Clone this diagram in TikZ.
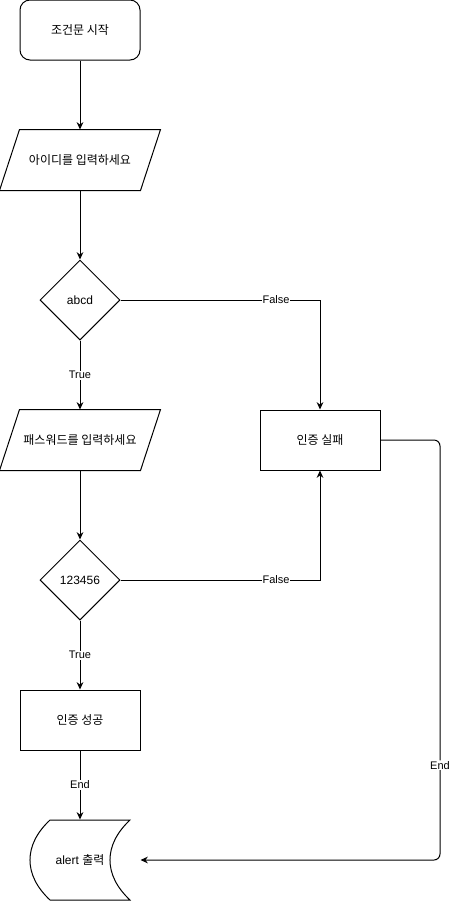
\documentclass[tikz,border=0pt]{standalone}
\usepackage{fontspec}
\setmainfont{Liberation Sans}
\newfontfamily\kr{Noto Sans CJK KR}
\usepackage{tikz}
\usetikzlibrary{arrows.meta,shapes.geometric}
\tikzset{>/.tip={Stealth[length=5.5pt,width=5pt]},
  startbox/.style={draw, rounded corners=7.5pt, minimum width=90pt, minimum height=45pt},
  iobox/.style={minimum width=120pt, minimum height=45pt},
  decision/.style={draw, diamond, aspect=1, minimum width=60pt, minimum height=60pt, inner sep=0pt},
  procbox/.style={draw, minimum width=90pt, minimum height=45pt},
  outbox/.style={minimum width=90pt, minimum height=60pt},
  lbl/.style={fill=white, inner sep=0.5pt, font=\fontsize{8.25pt}{10pt}\selectfont}}

\begin{document}
\begin{tikzpicture}[x=0.75pt, y=-0.75pt, line width=0.75pt,
  every node/.append style={font=\fontsize{9pt}{11pt}\selectfont}]
\useasboundingbox (0,0) rectangle (450,901);
\node[startbox] (start) at (80,30)  {\kr 조건문 시작};
\node[iobox]    (in1)   at (80,160) {\kr 아이디를 입력하세요};
\node[decision] (d1)    at (80,300) {abcd};
\node[iobox]    (in2)   at (80,440) {\kr 패스워드를 입력하세요};
\node[decision] (d2)    at (80,580) {123456};
\node[procbox]  (ok)    at (80,720) {\kr 인증 성공};
\node[procbox]  (fail)  at (320,440) {\kr 인증 실패};
\node[outbox]   (alert) at (80,860) {alert {\kr 출력}};
\coordinate (c1) at (440,440);
\coordinate (c2) at (440,860);
% input shapes
\foreach \n in {in1,in2}
{
  \draw ([xshift=15pt]\n.north west) -- (\n.north east)
    -- ([xshift=-15pt]\n.south east) -- (\n.south west) -- cycle;
}
% output shape
\draw (50,820) -- (130,820) .. controls (103.3,845) and (103.3,875) .. (130,900)
  -- (50,900) .. controls (23.3,875) and (23.3,845) .. (50,820) -- cycle;
\foreach \a/\b in {start/in1, in1/d1, in2/d2}
{
  \draw[->] (\a) -- (\b);
}
\draw[->] (d1) -- node[lbl] {True} (in2);
\draw[->] (d2) -- node[lbl] {True} (ok);
\draw[->] (ok) -- node[lbl] {End} (alert);
\draw[->] (d1.east) -| node[lbl, pos=0.39] {False} (fail.north);
\draw[->] (d2.east) -| node[lbl, pos=0.39] {False} (fail.south);
\draw[->, rounded corners=4.5pt] (fail.east) -- (c1) -- node[lbl, pos=0.774] {End} (c2) -- (alert.east);
\end{tikzpicture}
\end{document}
